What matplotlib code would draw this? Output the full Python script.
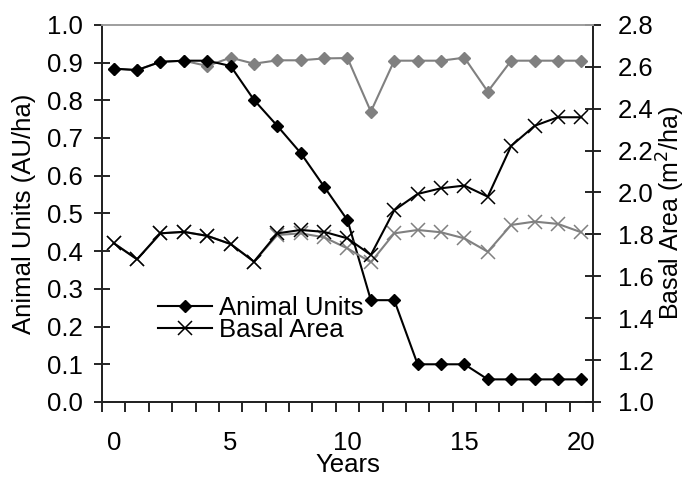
import matplotlib.pyplot as plt
from matplotlib.lines import Line2D

plt.rcParams['font.family'] = ['Liberation Sans', 'DejaVu Sans']

years = list(range(21))
year_labels = ['0', '5', '10', '15', '20']

# animal units (AU/ha), left axis
au_black = [0.884, 0.880, 0.902, 0.905, 0.905, 0.891, 0.801, 0.732, 0.660, 0.571, 0.482,
            0.270, 0.270, 0.100, 0.100, 0.100, 0.060, 0.060, 0.060, 0.060, 0.060]
au_gray = [0.884, 0.880, 0.902, 0.905, 0.891, 0.913, 0.897, 0.906, 0.906, 0.911, 0.912,
           0.770, 0.905, 0.905, 0.905, 0.913, 0.823, 0.905, 0.905, 0.905, 0.905]

# basal area (m2/ha), right axis
ba_black = [1.758, 1.681, 1.805, 1.812, 1.793, 1.754, 1.670, 1.805, 1.821, 1.812, 1.781,
            1.702, 1.915, 1.993, 2.020, 2.033, 1.980, 2.222, 2.318, 2.359, 2.359]
ba_gray = [1.758, 1.681, 1.805, 1.812, 1.793, 1.754, 1.670, 1.797, 1.805, 1.786, 1.733,
           1.667, 1.805, 1.821, 1.810, 1.781, 1.717, 1.845, 1.861, 1.850, 1.810]

gray = '#808080'

fig = plt.figure(figsize=(6.86, 4.78), dpi=100)
ax = fig.add_axes([0.1487, 0.159, 0.7157, 0.789])
ax2 = ax.twinx()

ax.plot(years, au_gray, color=gray, lw=1.5, marker='D', ms=6.2, zorder=2)
ax2.plot(years, ba_gray, color=gray, lw=1.5, marker='x', ms=9.5, mew=1.1, zorder=2)
ax.plot(years, au_black, color='black', lw=1.5, marker='D', ms=6.6, zorder=3)
ax2.plot(years, ba_black, color='black', lw=1.5, marker='x', ms=9.5, mew=1.1, zorder=3)

ax.set_xlim(-0.5, 20.5)
ax.set_ylim(0, 1.0)
ax2.set_ylim(1.0, 2.8)

# category axis: ticks between years, labels every 5
ax.set_xticks([i - 0.5 for i in range(22)])
ax.set_xticklabels([])
ax.set_xticks([0, 5, 10, 15, 20], minor=True)
ax.set_xticklabels(year_labels, minor=True)
ax.tick_params(axis='x', which='major', direction='out', length=7, width=1.2)
ax.tick_params(axis='x', which='minor', length=0, pad=21, labelsize=18.5)

ax.set_yticks([i / 10 for i in range(11)])
ax.set_yticklabels(['%.1f' % (i / 10) for i in range(11)])
ax.tick_params(axis='y', direction='inout', length=12, width=1.2, labelsize=18.5, pad=8)
ax2.set_yticks([1.0 + 0.2 * i for i in range(10)])
ax2.set_yticklabels(['%.1f' % (1.0 + 0.2 * i) for i in range(10)])
ax2.tick_params(axis='y', direction='inout', length=12, width=1.2, labelsize=18.5, pad=12)

for a in (ax, ax2):
    for s in ('left', 'right', 'bottom'):
        a.spines[s].set_linewidth(1.3)
        a.spines[s].set_color('#222222')
    a.spines['top'].set_color('#a0a0a0')
    a.spines['top'].set_linewidth(1.3)

ax.set_xlabel('Years', fontsize=18.5)
ax.xaxis.set_label_coords(0.5, -0.135)
ax.set_ylabel('Animal Units (AU/ha)', fontsize=18.5)
ax.yaxis.set_label_coords(-0.134, 0.5)
ax2.set_ylabel('Basal Area (m$^2$/ha)', fontsize=18)
ax2.yaxis.set_label_coords(1.126, 0.5)

handles = [Line2D([], [], color='black', lw=1.5, marker='D', ms=6.6),
           Line2D([], [], color='black', lw=1.5, marker='x', ms=9.5, mew=1.1)]
ax2.legend(handles, ['Animal Units', 'Basal Area'], loc='upper left',
           bbox_to_anchor=(0.088, 0.316), frameon=False, fontsize=18.5,
           handlelength=2.1, handletextpad=0.28, labelspacing=-0.07, borderpad=0)

fig.savefig('out.png', dpi=100)
